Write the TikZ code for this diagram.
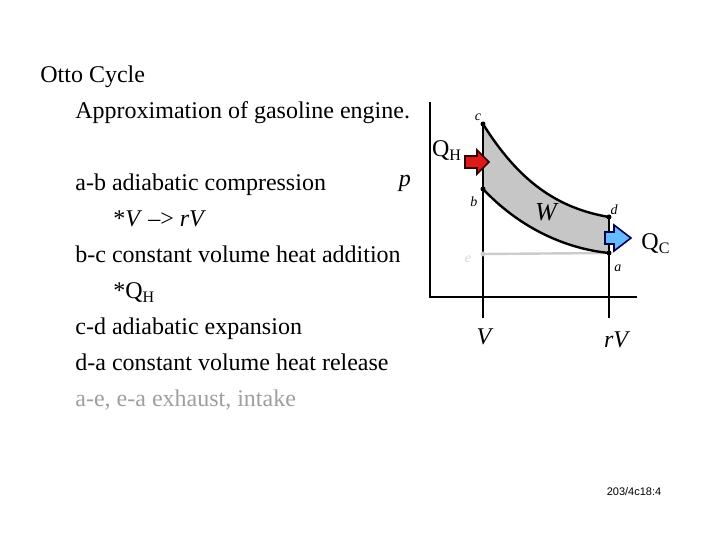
\documentclass[tikz,border=0pt]{standalone}
\usepackage{fontspec}
\setmainfont{Liberation Serif}
\newfontfamily\smallsans{Liberation Sans}
\begin{document}
\begin{tikzpicture}[x=0.5pt,y=-0.5pt,
  txt/.style={anchor=base west,inner sep=0pt,font=\fontsize{12}{14}\selectfont},
  lbl/.style={inner sep=0pt,font=\fontsize{7}{8}\selectfont\itshape},
  axl/.style={inner sep=0pt,font=\fontsize{12}{14}\selectfont\itshape},
  dot/.style={circle,fill=black,inner sep=0pt,minimum size=2.5pt},
  curve/.style={line width=1.2pt},
  ax/.style={line width=1.3pt}]
\useasboundingbox (0,0) rectangle (720,540);
% text
\node[txt] (t1) at (40,83) {Otto Cycle};
\node[txt] (t2) at (75,119) {Approximation of gasoline engine.};
\node[txt] (t3) at (75,191) {a-b adiabatic compression};
\node[txt] (t4) at (113,227) {*\textit{V} –> \textit{rV}};
\node[txt] (t5) at (75,263) {b-c constant volume heat addition};
\node[txt] (t6) at (113,299) {*Q\textsubscript{H}};
\node[txt] (t7) at (75,335) {c-d adiabatic expansion};
\node[txt] (t8) at (75,371) {d-a constant volume heat release};
\node[txt,text=gray!75] (t9) at (75,407) {a-e, e-a exhaust, intake};
\node[inner sep=0pt,font=\smallsans\fontsize{5.5}{6}\selectfont] (ft) at (634,492) {203/4c18:4};
% points
\coordinate (c) at (483,124);
\coordinate (b) at (483,189);
\coordinate (d) at (609,217);
\coordinate (a) at (609,253);
\coordinate (e) at (483,254);
% shaded region
\fill[gray!45] (c) .. controls (518,180) and (556,208) .. (d) -- (a)
  .. controls (560,248) and (516,224) .. (b) -- cycle;
% exhaust line
\draw[gray!40,line width=1.2pt] (e) -- (a);
% axes
\coordinate (o) at (430,297);
\draw[ax] (430,102) -- (o) -- (637,297);
% volume lines
\draw[ax] (c) -- (483,318);
\draw[ax] (d) -- (609,318);
% curves
\draw[curve] (c) .. controls (518,180) and (556,208) .. (d);
\draw[curve] (b) .. controls (516,224) and (560,248) .. (a);
% dots
\node[dot] at (c) {};
\node[dot] at (b) {};
\node[dot] at (d) {};
\node[dot] at (a) {};
\node[dot,fill=gray!40] at (e) {};
% labels
\node[lbl] (lc) at (478,117) {c};
\node[lbl] (lb) at (474,202) {b};
\node[lbl] (ld) at (614,210) {d};
\node[lbl] (la) at (618,268) {a};
\node[lbl,text=gray!35] (le) at (468,259) {e};
\node[inner sep=0pt,font=\fontsize{13}{14}\selectfont\itshape] (lw) at (546,212) {W};
\node[axl] (lv) at (484,337) {V};
\node[axl] (lrv) at (616,340) {rV};
\node[axl] (lp) at (405,183) {p};
\node[inner sep=0pt,font=\fontsize{12}{14}\selectfont] (qh) at (447,151) {Q\textsubscript{H}};
\node[inner sep=0pt,font=\fontsize{12}{14}\selectfont] (qc) at (656,244) {Q\textsubscript{C}};
% heat arrows
\filldraw[fill=red!85!black!90,draw=black!80!red,line width=0.8pt,line join=miter]
  (465,156) -- (477,156) -- (477,150) -- (489,162) -- (477,174) -- (477,168) -- (465,168) -- cycle;
\filldraw[fill=blue!45!cyan!60,draw=black!70!blue,line width=0.8pt,line join=miter]
  (605,232) -- (614,232) -- (614,225) -- (631,238) -- (614,251) -- (614,244) -- (605,244) -- cycle;
\end{tikzpicture}
\end{document}
